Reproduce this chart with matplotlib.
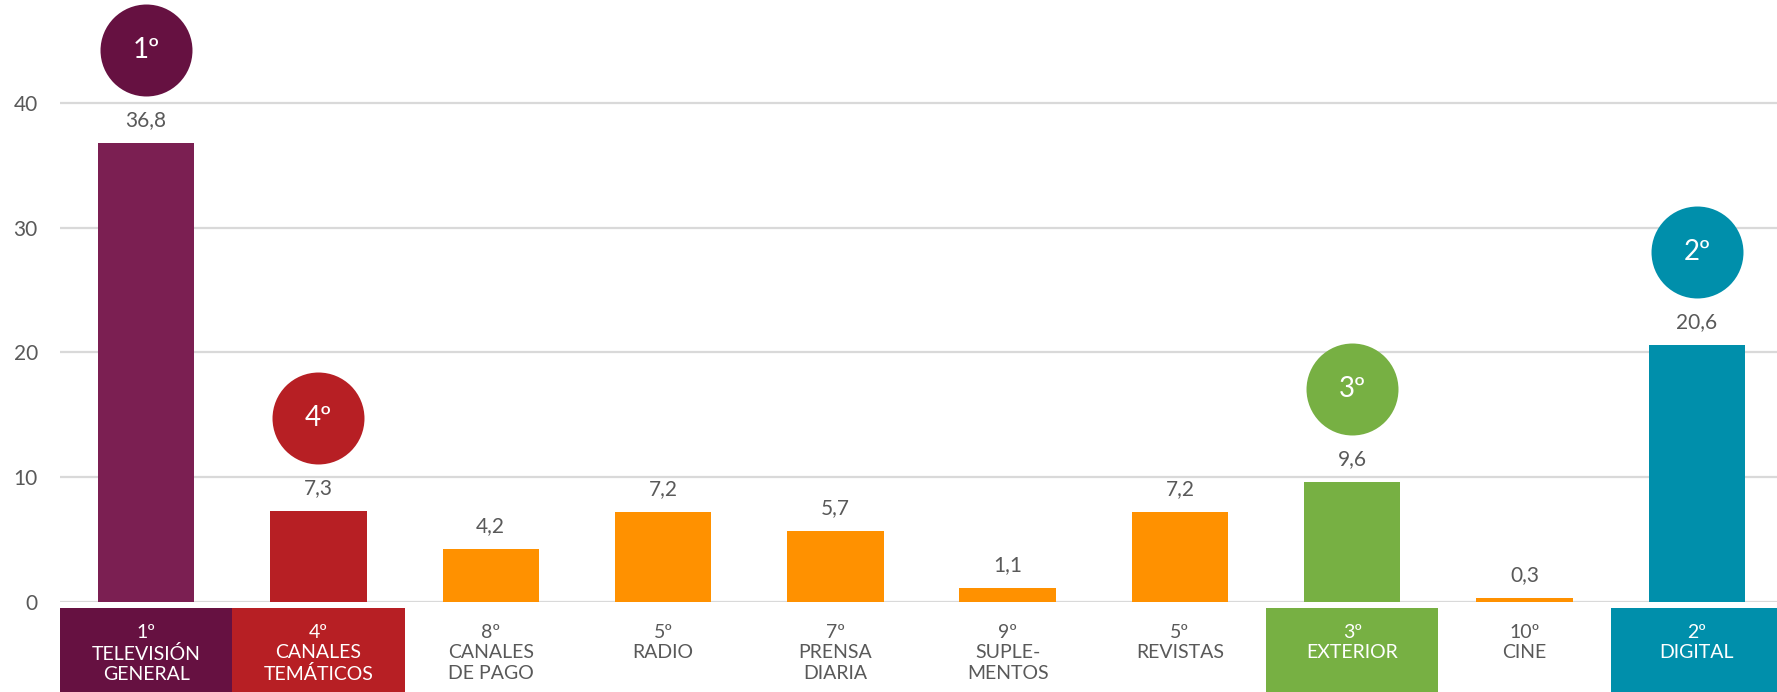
import matplotlib.pyplot as plt
from matplotlib.transforms import blended_transform_factory, ScaledTranslation

# datos
medios = ["TELEVISIÓN\nGENERAL", "CANALES\nTEMÁTICOS", "CANALES\nDE PAGO", "RADIO",
          "PRENSA\nDIARIA", "SUPLE-\nMENTOS", "REVISTAS", "EXTERIOR", "CINE", "DIGITAL"]
ranking = ["1º", "4º", "8º", "5º", "7º", "9º", "5º", "3º", "10º", "2º"]
valores = [36.8, 7.3, 4.2, 7.2, 5.7, 1.1, 7.2, 9.6, 0.3, 20.6]
valores_txt = ["36,8", "7,3", "4,2", "7,2", "5,7", "1,1", "7,2", "9,6", "0,3", "20,6"]

# colores
naranja = "#FF9100"
col_barra = ["#7B1F52", "#B71F24", naranja, naranja, naranja, naranja, naranja,
             "#77B043", naranja, "#008FAB"]
col_caja = ["#661141", "#B71F24", None, None, None, None, None, "#77B043", None, "#008FAB"]
top4 = [0, 1, 7, 9]
gris = "#595959"

plt.rcParams["font.family"] = ["Lato", "DejaVu Sans"]

fig = plt.figure(figsize=(17.77, 6.92), dpi=100)
ax = fig.add_axes([60 / 1777, 90.5 / 692, 1723 / 1777, 601.5 / 692])

x = list(range(len(valores)))
ax.bar(x, valores, width=0.56, color=col_barra, zorder=3)
ax.set_xlim(-0.5, 9.5)
ax.set_ylim(0, 48.3)
ax.set_yticks([0, 10, 20, 30, 40])
ax.set_yticklabels(["0", "10", "20", "30", "40"])
ax.tick_params(axis="y", length=0, pad=16, labelsize=15, labelcolor=gris)
ax.set_xticks([])
ax.yaxis.grid(True, color="#D9D9D9", linewidth=1.6, zorder=0)
ax.set_axisbelow(True)
for s in ax.spines.values():
    s.set_visible(False)

# etiquetas de valor
for i, v in enumerate(valores):
    ax.annotate(valores_txt[i], (i, v), xytext=(0, 16.5), textcoords="offset points",
                ha="center", va="center", fontsize=15, color=gris)

# circulos de ranking
desplaza = ax.transData + ScaledTranslation(0, 67 / 72, fig.dpi_scale_trans)
for i in top4:
    ax.scatter([i], [valores[i]], s=4385, color=col_caja[i], transform=desplaza,
               clip_on=False, zorder=4, linewidths=0)
    ax.annotate(ranking[i], (i, valores[i]), xytext=(0, 67), textcoords="offset points",
                ha="center", va="center", fontsize=20, color="white",
                annotation_clip=False, zorder=5)

# cajas de categoria
tr = blended_transform_factory(ax.transData, fig.transFigure)
for i in x:
    if col_caja[i] is not None:
        fig.patches.append(plt.Rectangle((i - 0.5, 0), 1.0, 84 / 692, transform=tr,
                                         facecolor=col_caja[i], edgecolor="none"))
        tc = "white"
    else:
        tc = gris
    fig.text(i, (692 - 624) / 692, ranking[i] + "\n" + medios[i], transform=tr,
             ha="center", va="top", fontsize=14, color=tc, linespacing=1.25)

fig.savefig("out.png", dpi=100)
